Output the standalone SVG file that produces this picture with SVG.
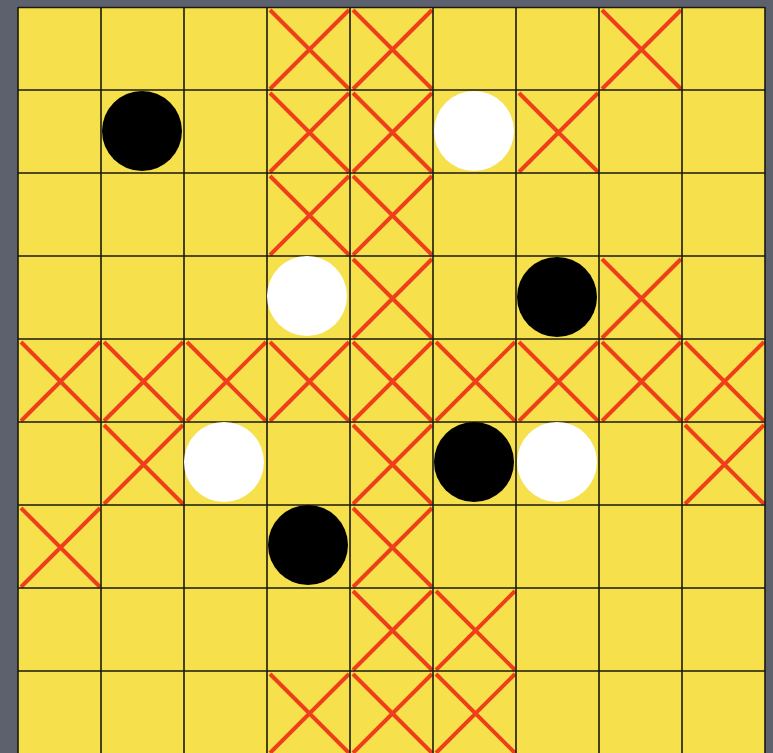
<svg xmlns="http://www.w3.org/2000/svg" xmlns:xlink="http://www.w3.org/1999/xlink" width="773" height="753" viewBox="0 0 773 753">
<style>
.cross{stroke:#ee3f1a;stroke-width:4;fill:none;stroke-linecap:butt}
.grid{stroke:#1a1a10;stroke-width:1.6;fill:none}
.black{fill:#000}
.white{fill:#fff}
</style>
<defs>
<path id="x" class="cross" d="M3,3 L82,82 M82,3 L3,82"/>
</defs>
<rect width="773" height="753" fill="#5d616d"/>
<rect x="18" y="7" width="747" height="760" fill="#f6e04c"/>
<g id="marks">
<use href="#x" x="267" y="7"/><use href="#x" x="350" y="7"/><use href="#x" x="599" y="7"/>
<use href="#x" x="267" y="90"/><use href="#x" x="350" y="90"/><use href="#x" x="516" y="90"/>
<use href="#x" x="267" y="173"/><use href="#x" x="350" y="173"/>
<use href="#x" x="350" y="256"/><use href="#x" x="599" y="256"/>
<use href="#x" x="18" y="339"/><use href="#x" x="101" y="339"/><use href="#x" x="184" y="339"/><use href="#x" x="267" y="339"/><use href="#x" x="350" y="339"/><use href="#x" x="433" y="339"/><use href="#x" x="516" y="339"/><use href="#x" x="599" y="339"/><use href="#x" x="682" y="339"/>
<use href="#x" x="101" y="422"/><use href="#x" x="350" y="422"/><use href="#x" x="682" y="422"/>
<use href="#x" x="18" y="505"/><use href="#x" x="350" y="505"/>
<use href="#x" x="350" y="588"/><use href="#x" x="433" y="588"/>
<use href="#x" x="267" y="671"/><use href="#x" x="350" y="671"/><use href="#x" x="433" y="671"/>
</g>
<g id="grid" class="grid">
<path d="M18,7 V753 M101,7 V753 M184,7 V753 M267,7 V753 M350,7 V753 M433,7 V753 M516,7 V753 M599,7 V753 M682,7 V753 M765,7 V753"/>
<path d="M18,7.5 H765 M18,90 H765 M18,173 H765 M18,256 H765 M18,339 H765 M18,422 H765 M18,505 H765 M18,588 H765 M18,671 H765"/>
</g>
<g id="stone-b1"><circle class="black" cx="142" cy="131" r="40"/></g>
<g id="stone-w1"><circle class="white" cx="474" cy="131" r="40"/></g>
<g id="stone-w2"><circle class="white" cx="307" cy="296" r="40"/></g>
<g id="stone-b2"><circle class="black" cx="557" cy="297" r="40"/></g>
<g id="stone-w3"><circle class="white" cx="224" cy="462" r="40"/></g>
<g id="stone-b3"><circle class="black" cx="474" cy="462" r="40"/></g>
<g id="stone-w4"><circle class="white" cx="557" cy="462" r="40"/></g>
<g id="stone-b4"><circle class="black" cx="308" cy="545" r="40"/></g>
</svg>
